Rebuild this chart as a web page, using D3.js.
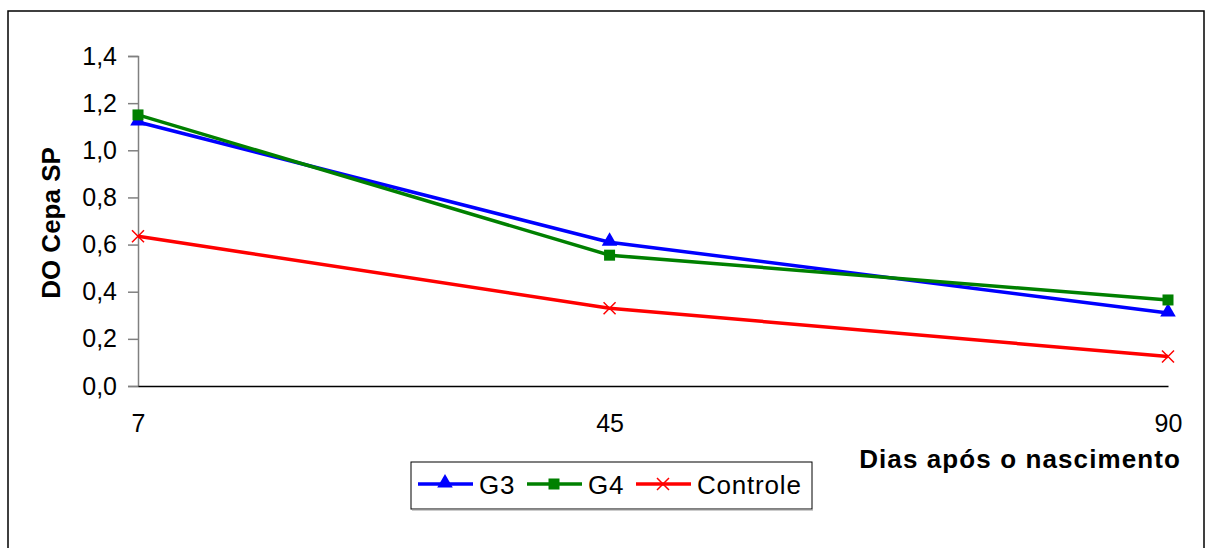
<!DOCTYPE html>
<html>
<head>
<meta charset="utf-8">
<script src="https://cdn.jsdelivr.net/npm/d3@7"></script>
<style>
  body { margin: 0; background: #fff; }
  svg { font-family: "Liberation Sans", Arial, sans-serif; }
</style>
</head>
<body>
<div id="chart"></div>
<script>
// data
var days = [7, 45, 90];
var g3 = [1.12, 0.61, 0.31];
var g4 = [1.15, 0.555, 0.365];
var controle = [0.635, 0.33, 0.125];
var yTicks = [0, 0.2, 0.4, 0.6, 0.8, 1.0, 1.2, 1.4];

var series = [
  { name: "G3", values: g3, color: "#0000ff", marker: "triangle" },
  { name: "G4", values: g4, color: "#008000", marker: "square" },
  { name: "Controle", values: controle, color: "#ff0000", marker: "x" }
];

var W = 1206, H = 548;
var svg = d3.select("#chart").append("svg")
  .attr("width", W).attr("height", H);

// outer frame
svg.append("rect")
  .attr("x", 8).attr("y", 11)
  .attr("width", 1196).attr("height", 560)
  .attr("fill", "none").attr("stroke", "#000").attr("stroke-width", 1.5);

var x = d3.scaleLinear().domain([7, 90]).range([138, 1168]);
var y = d3.scaleLinear().domain([0, 1.4]).range([386, 56]);

var fmt = function(d) { return d3.format(".1f")(d).replace(".", ","); };

// y axis
var yAxis = svg.append("g")
  .attr("transform", "translate(138,0)")
  .call(d3.axisLeft(y).tickValues(yTicks).tickFormat(fmt).tickSize(10).tickPadding(11));
yAxis.select(".domain").attr("stroke", "#808080").attr("stroke-width", 1.5);
yAxis.selectAll(".tick line").attr("stroke", "#808080").attr("stroke-width", 1.5);
yAxis.selectAll("text").style("font-size", "25px").attr("fill", "#000");

// x axis
var xAxis = svg.append("g")
  .attr("transform", "translate(0,386)")
  .call(d3.axisBottom(x).tickValues(days).tickSize(0).tickPadding(28));
xAxis.select(".domain").attr("stroke", "#000").attr("stroke-width", 1.5);
xAxis.selectAll("text").style("font-size", "25px").attr("fill", "#000");

// axis titles
svg.append("text")
  .attr("transform", "translate(60,223) rotate(-90)")
  .attr("text-anchor", "middle")
  .style("font-size", "26px").style("font-weight", "bold")
  .text("DO Cepa SP");

svg.append("text")
  .attr("x", 1181).attr("y", 468)
  .attr("text-anchor", "end")
  .style("font-size", "26px").style("font-weight", "bold")
  .style("letter-spacing", "1.1px")
  .text("Dias após o nascimento");

function drawMarker(g, type, color, cx, cy) {
  if (type === "triangle") {
    g.append("path")
      .attr("d", d3.symbol().type(d3.symbolTriangle).size(105)())
      .attr("transform", "translate(" + cx + "," + (cy - 1) + ")")
      .attr("fill", color);
  } else if (type === "square") {
    g.append("rect")
      .attr("x", cx - 5.5).attr("y", cy - 5.5)
      .attr("width", 11).attr("height", 11)
      .attr("fill", color);
  } else {
    g.append("path")
      .attr("d", "M" + (cx - 6) + "," + (cy - 6) + "L" + (cx + 6) + "," + (cy + 6) +
                 "M" + (cx - 6) + "," + (cy + 6) + "L" + (cx + 6) + "," + (cy - 6))
      .attr("stroke", color).attr("stroke-width", 1.5);
  }
}

var line = d3.line()
  .x(function(d) { return x(d[0]); })
  .y(function(d) { return y(d[1]); });

series.forEach(function(s) {
  var pts = days.map(function(d, i) { return [d, s.values[i]]; });
  var g = svg.append("g");
  g.append("path")
    .attr("d", line(pts))
    .attr("fill", "none")
    .attr("stroke", s.color)
    .attr("stroke-width", 3.5);
  pts.forEach(function(p) {
    drawMarker(g, s.marker, s.color, x(p[0]), y(p[1]));
  });
});

// legend
var lg = svg.append("g");
lg.append("rect")
  .attr("x", 411).attr("y", 462)
  .attr("width", 401).attr("height", 47)
  .attr("fill", "#fff").attr("stroke", "#000").attr("stroke-width", 1);
lg.append("line")
  .attr("x1", 412).attr("y1", 510).attr("x2", 813).attr("y2", 510)
  .attr("stroke", "#999").attr("stroke-width", 1);

var legendX = [418, 527, 636];
series.forEach(function(s, i) {
  var lx = legendX[i], ly = 484;
  lg.append("line")
    .attr("x1", lx).attr("y1", ly).attr("x2", lx + 55).attr("y2", ly)
    .attr("stroke", s.color).attr("stroke-width", 3.5);
  drawMarker(lg, s.marker, s.color, lx + 27, ly);
  lg.append("text")
    .attr("x", lx + 61).attr("y", ly + 10)
    .style("font-size", "26px")
    .style("letter-spacing", "0.8px")
    .text(s.name);
});
</script>
</body>
</html>
